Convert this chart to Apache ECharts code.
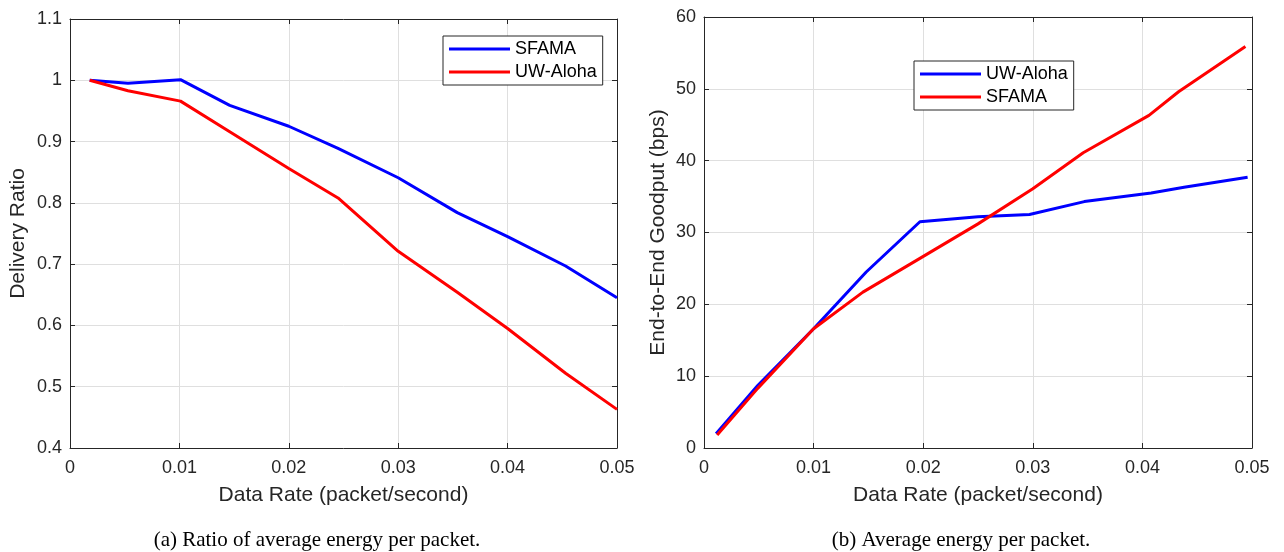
<!DOCTYPE html>
<html>
<head>
<meta charset="utf-8">
<script src="https://cdn.jsdelivr.net/npm/echarts@6/dist/echarts.min.js"></script>
<style>
html,body{margin:0;padding:0;background:#fff;}
#c{width:1284px;height:552px;}
</style>
</head>
<body>
<div id="c"></div>
<script>
// ---- Data (a): Delivery Ratio ----
const rateA = [0.0018, 0.0053, 0.0101, 0.0146, 0.02, 0.0245, 0.03, 0.0354, 0.04, 0.0453, 0.05];
const sfamaA = [1.0, 0.995, 1.001, 0.959, 0.925, 0.889, 0.841, 0.784, 0.745, 0.697, 0.645];
const alohaA = [1.0, 0.983, 0.966, 0.916, 0.856, 0.808, 0.721, 0.654, 0.595, 0.522, 0.463];

// ---- Data (b): End-to-End Goodput ----
const rateAlohaB = [0.0011, 0.0049, 0.01, 0.0148, 0.0197, 0.025, 0.0297, 0.0347, 0.0408, 0.0438, 0.0496];
const alohaB = [2.0, 8.7, 16.6, 24.5, 31.5, 32.2, 32.5, 34.3, 35.5, 36.3, 37.7];
const rateSfamaB = [0.0012, 0.0049, 0.01, 0.0145, 0.0197, 0.025, 0.03, 0.0346, 0.0406, 0.0433, 0.0462, 0.0494];
const sfamaB = [1.8, 8.3, 16.6, 21.7, 26.4, 31.2, 36.1, 41.1, 46.3, 49.6, 52.6, 55.9];

const xTicks = [0, 0.01, 0.02, 0.03, 0.04, 0.05];
const yTicksA = [0.4, 0.5, 0.6, 0.7, 0.8, 0.9, 1, 1.1];
const yTicksB = [0, 10, 20, 30, 40, 50, 60];

const captionA = '(a) Ratio of average energy per packet.';
const captionB = '(b) Average energy per packet.';

const pairs = (xs, ys) => xs.map((x, i) => [x, ys[i]]);

const AX = '#262626';
const GRID = '#dfdfdf';
const FONT = '"Liberation Sans", Arial, sans-serif';
const SERIF = '21px "Liberation Serif", "Times New Roman", serif';

function xAxisDef(gi, show) {
  return {
    type: 'value', gridIndex: gi, min: xTicks[0], max: xTicks[xTicks.length - 1], interval: 0.01,
    position: show ? 'bottom' : 'top',
    axisLine: {show: true, onZero: false, lineStyle: {color: AX, width: 1}},
    axisTick: {show: true, inside: true, length: 5, lineStyle: {color: AX}},
    axisLabel: {show: show, color: AX, fontSize: 18, fontFamily: FONT, margin: 11,
      formatter: v => String(+v.toFixed(3))},
    splitLine: {show: show, lineStyle: {color: GRID, width: 1}},
    name: show ? 'Data Rate (packet/second)' : '',
    nameLocation: 'middle', nameGap: 37,
    nameTextStyle: {color: AX, fontSize: 21, fontFamily: FONT}
  };
}
function yAxisDef(gi, show, ticks, interval, name, nameGap) {
  return {
    type: 'value', gridIndex: gi, min: ticks[0], max: ticks[ticks.length - 1], interval: interval,
    position: show ? 'left' : 'right',
    axisLine: {show: true, onZero: false, lineStyle: {color: AX, width: 1}},
    axisTick: {show: true, inside: true, length: 5, lineStyle: {color: AX}},
    axisLabel: {show: show, color: AX, fontSize: 18, fontFamily: FONT, margin: 8,
      formatter: v => String(+v.toFixed(2))},
    splitLine: {show: show, lineStyle: {color: GRID, width: 1}},
    name: show ? name : '',
    nameLocation: 'middle', nameGap: nameGap,
    nameTextStyle: {color: AX, fontSize: 21, fontFamily: FONT}
  };
}

const chart = echarts.init(document.getElementById('c'), null, {renderer: 'canvas'});
const lineSeries = (name, xi, yi, data, color) => ({
  type: 'line', name: name, xAxisIndex: xi, yAxisIndex: yi, data: data,
  showSymbol: false, symbol: 'none', animation: false,
  lineStyle: {color: color, width: 3}, itemStyle: {color: color}
});

const legendCommon = {
  orient: 'vertical', backgroundColor: '#fff', borderColor: AX, borderWidth: 1,
  borderRadius: 0, icon: 'rect', itemWidth: 61, itemHeight: 3, itemGap: 5,
  itemTextGap: 5, padding: [4, 6, 4, 6],
  textStyle: {color: '#000', fontSize: 18, fontFamily: FONT, lineHeight: 18},
  formatter: n => n.split(':')[1], selectedMode: false
};

chart.setOption({
  backgroundColor: '#fff',
  animation: false,
  grid: [
    {left: 70, right: 667, top: 19, bottom: 104},
    {left: 704, right: 32, top: 17, bottom: 104}
  ],
  xAxis: [xAxisDef(0, true), xAxisDef(0, false), xAxisDef(1, true), xAxisDef(1, false)],
  yAxis: [
    yAxisDef(0, true, yTicksA, 0.1, 'Delivery Ratio', 41),
    yAxisDef(0, false, yTicksA, 0.1, '', 0),
    yAxisDef(1, true, yTicksB, 10, 'End-to-End Goodput (bps)', 35),
    yAxisDef(1, false, yTicksB, 10, '', 0)
  ],
  legend: [
    Object.assign({}, legendCommon, {left: 443, top: 36, data: ['a:SFAMA', 'a:UW-Aloha']}),
    Object.assign({}, legendCommon, {left: 914, top: 61, data: ['b:UW-Aloha', 'b:SFAMA']})
  ],
  series: [
    lineSeries('a:SFAMA', 0, 0, pairs(rateA, sfamaA), '#0000ff'),
    lineSeries('a:UW-Aloha', 0, 0, pairs(rateA, alohaA), '#ff0000'),
    lineSeries('b:UW-Aloha', 2, 2, pairs(rateAlohaB, alohaB), '#0000ff'),
    lineSeries('b:SFAMA', 2, 2, pairs(rateSfamaB, sfamaB), '#ff0000')
  ],
  graphic: [
    {type: 'text', x: 317, y: 540, style: {text: captionA, font: SERIF, fill: '#000', align: 'center', verticalAlign: 'middle'}},
    {type: 'text', x: 961, y: 540, style: {text: captionB, font: SERIF, fill: '#000', align: 'center', verticalAlign: 'middle'}}
  ]
});
</script>
</body>
</html>
